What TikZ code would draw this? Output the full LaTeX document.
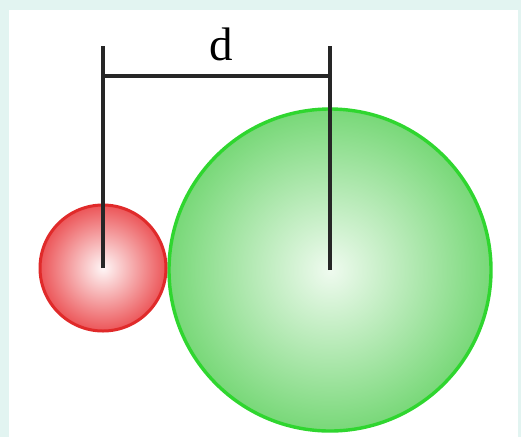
\documentclass[tikz,border=0pt]{standalone}
\usepackage{fontspec}
\setmainfont{Liberation Serif}
\usepackage{tikz}
\usetikzlibrary{positioning,calc}
\definecolor{framecyan}{HTML}{E2F4F1}
\definecolor{redrim}{HTML}{E02A2A}
\definecolor{redfill}{HTML}{EC5558}
\definecolor{greenrim}{HTML}{2FD62F}
\definecolor{greenfill}{HTML}{78D878}
\tikzset{
  redball/.style={
    circle, draw=redrim, line width=3pt, minimum size=126pt, inner sep=0pt,
    shade, inner color=white!95!redfill, outer color=redfill
  },
  greenball/.style={
    circle, draw=greenrim, line width=3.4pt, minimum size=322pt, inner sep=0pt,
    shade, inner color=white!88!greenfill, outer color=greenfill
  },
  dimline/.style={line width=4pt, black!85},
  dimlabel/.style={font=\fontsize{47}{47}\selectfont, inner sep=0pt, anchor=base}
}
\begin{document}
\begin{tikzpicture}[x=1pt,y=-1pt]
  % frame
  \fill[framecyan] (0,0) rectangle (521,437);
  \fill[white] (9,10) rectangle (518,437);
  \useasboundingbox (0,0) rectangle (521,437);

  % balls
  \node[greenball] (big) at (330,270) {};
  \node[redball] (small) at (103,268) {};

  % distance d
  \coordinate (dtop) at (0,46);
  \coordinate (dbar) at (0,76);
  \draw[dimline] (small.center) -- (small.center |- dtop);
  \draw[dimline] (big.center) -- (big.center |- dtop);
  \draw[dimline] (small.center |- dbar) -- (big.center |- dbar);
  \node[dimlabel] (d) at ($(small.center |- 0,60)!0.52!(big.center |- 0,60)$) {d};
\end{tikzpicture}
\end{document}
